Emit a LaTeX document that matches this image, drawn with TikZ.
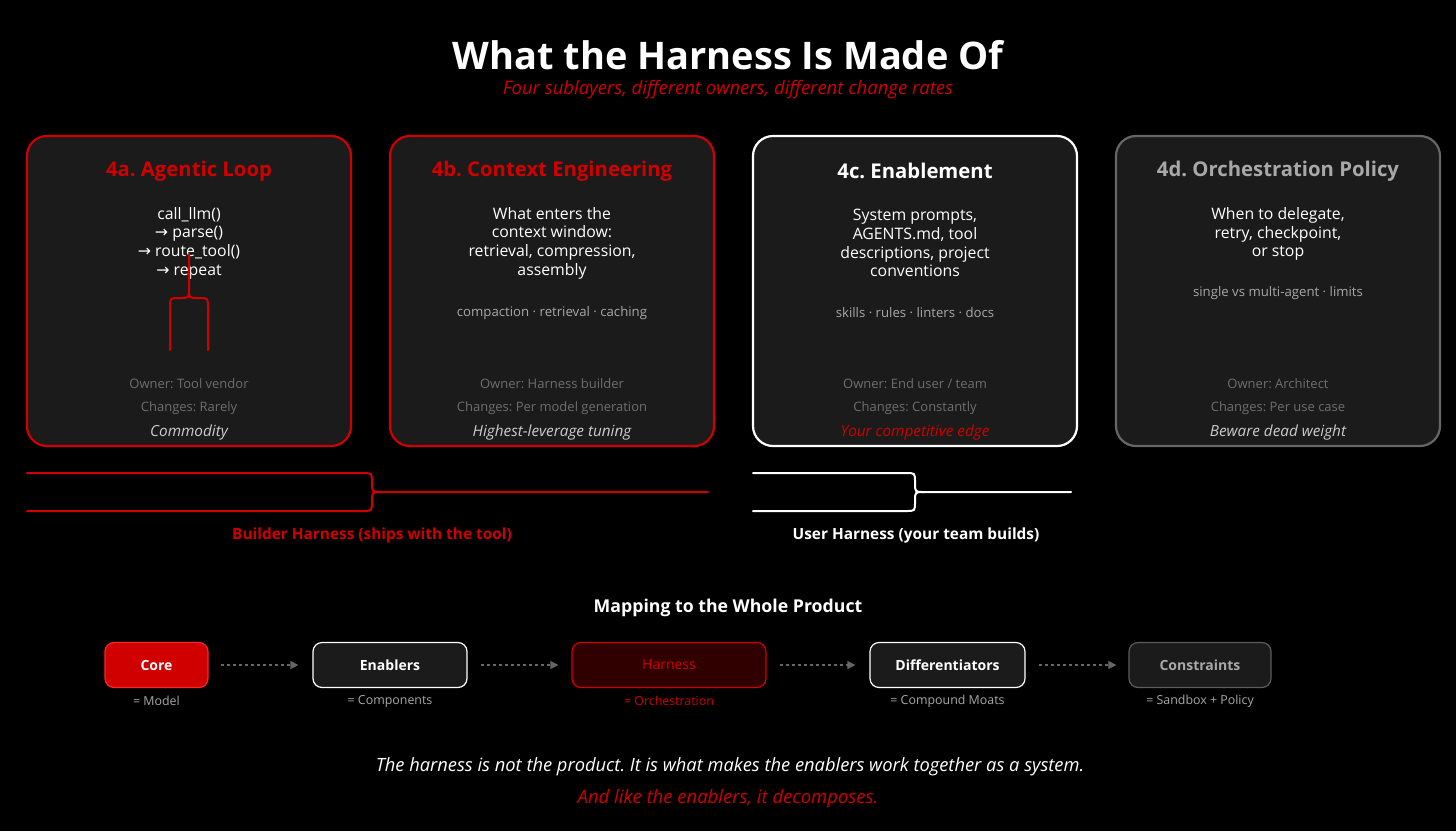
\documentclass[tikz,border=0pt]{standalone}
\usepackage{fontspec}
\setmainfont{Open Sans}
\newfontfamily\symf{DejaVu Sans}
\usetikzlibrary{arrows.meta}
\frenchspacing
\definecolor{rd}{HTML}{D00000}
\definecolor{boxbg}{HTML}{1B1B1B}
\definecolor{dimgray}{HTML}{6E6E6E}
\definecolor{taggray}{HTML}{A8A8A8}
\definecolor{cardgray}{HTML}{666666}
\definecolor{hbg}{HTML}{300000}
\tikzset{
  card/.style={draw, line width=2.2pt, fill=boxbg, rounded corners=20pt, minimum width=324pt, minimum height=310pt},
  cardhead/.style={font=\bfseries\fontsize{20.3}{24}\selectfont},
  cardbody/.style={text=white, align=center, font=\fontsize{15.8}{18.7}\selectfont},
  cardtag/.style={text=taggray, font=\fontsize{13.2}{15}\selectfont},
  owner/.style={text=dimgray, font=\fontsize{13}{15}\selectfont},
  verdict/.style={font=\itshape\fontsize{15.3}{17}\selectfont},
  brace/.style={line width=2pt, line cap=round},
  mapbox/.style={line width=1.2pt, rounded corners=9pt, minimum height=45pt, font=\bfseries\fontsize{14}{16}\selectfont},
  maplabel/.style={font=\fontsize{12.4}{14}\selectfont, text=taggray},
  flow/.style={draw=cardgray, dashed, line width=1.2pt, -{Triangle[length=8pt,width=8pt]}},
}
\begin{document}
\begin{tikzpicture}[x=1pt,y=-1pt]
\fill[black] (0,0) rectangle (1456,831);
\useasboundingbox (0,0) rectangle (1456,831);

% title
\node[text=white, font=\bfseries\fontsize{38}{44}\selectfont] (title) at (728,55) {What the Harness Is Made Of};
\node[text=rd, font=\itshape\fontsize{18.5}{21}\selectfont] (subtitle) at (728,90) {Four sublayers, different owners, different change rates};

% cards
\node[card, draw=rd] (cardA) at (189,291) {};
\node[card, draw=rd] (cardB) at (552,291) {};
\node[card, draw=white] (cardC) at (915,291) {};
\node[card, draw=cardgray] (cardD) at (1278,291) {};

% headers
\node[cardhead, text=rd] (headA) at (189,171) {4a. Agentic Loop};
\node[cardhead, text=rd] (headB) at (552,171) {4b. Context Engineering};
\node[cardhead, text=white] (headC) at (915,171) {4c. Enablement};
\node[cardhead, text=taggray] (headD) at (1278,171) {4d. Orchestration Policy};

% bodies
\node[cardbody] (bodyA) at (189,243) {call\_llm()\\ {\symf →} parse()\\ {\symf →} route\_tool()\\ {\symf →} repeat};
\node[cardbody] (bodyB) at (552,243) {What enters the\\ context window:\\ retrieval, compression,\\ assembly};
\node[cardbody] (bodyC) at (915,243) {System prompts,\\ AGENTS.md, tool\\ descriptions, project\\ conventions};
\node[cardbody] (bodyD) at (1278,234) {When to delegate,\\ retry, checkpoint,\\ or stop};

% tags
\node[cardtag] (tagB) at (552,313) {compaction · retrieval · caching};
\node[cardtag] (tagC) at (915,313) {skills · rules · linters · docs};
\node[cardtag] (tagD) at (1278,293) {single vs multi-agent · limits};

% vertical brace in 4a
\draw[brace, rd] (170,350) -- (170,308) .. controls (170,298) .. (178,298) -- (181,298) .. controls (189,298) .. (189,288) -- (189,254);
\draw[brace, rd] (208,350) -- (208,308) .. controls (208,298) .. (200,298) -- (197,298) .. controls (189,298) .. (189,288);

% owners
\node[owner] (ownA) at (189,384) {Owner: Tool vendor};
\node[owner] (chA) at (189,408) {Changes: Rarely};
\node[verdict, text=white!80!black] (vA) at (189,433) {Commodity};
\node[owner] (ownB) at (552,384) {Owner: Harness builder};
\node[owner] (chB) at (552,408) {Changes: Per model generation};
\node[verdict, text=white!80!black] (vB) at (552,433) {Highest-leverage tuning};
\node[owner] (ownC) at (915,384) {Owner: End user / team};
\node[owner] (chC) at (915,408) {Changes: Constantly};
\node[verdict, text=rd] (vC) at (915,433) {Your competitive edge};
\node[owner] (ownD) at (1278,384) {Owner: Architect};
\node[owner] (chD) at (1278,408) {Changes: Per use case};
\node[verdict, text=white!80!black] (vD) at (1278,433) {Beware dead weight};

% horizontal braces
\coordinate (rbTop) at (27,473);
\coordinate (rbBot) at (27,511);
\coordinate (rbEnd) at (708,492);
\draw[brace, rd] (rbTop) -- (362,473) .. controls (372,473) .. (372,482) -- (372,483) .. controls (372,492) .. (381,492) -- (rbEnd);
\draw[brace, rd] (rbBot) -- (362,511) .. controls (372,511) .. (372,502) -- (372,501) .. controls (372,492) .. (381,492);
\node[text=rd, font=\bfseries\fontsize{15.4}{18}\selectfont] (builder) at (372,535) {Builder Harness (ships with the tool)};

\coordinate (wbTop) at (753,473);
\coordinate (wbBot) at (753,511);
\coordinate (wbEnd) at (1071,492);
\draw[brace, white] (wbTop) -- (906,473) .. controls (915,473) .. (915,482) -- (915,483) .. controls (915,492) .. (924,492) -- (wbEnd);
\draw[brace, white] (wbBot) -- (906,511) .. controls (915,511) .. (915,502) -- (915,501) .. controls (915,492) .. (924,492);
\node[text=white, font=\bfseries\fontsize{15.4}{18}\selectfont] (user) at (916,535) {User Harness (your team builds)};

% mapping
\node[text=white, font=\bfseries\fontsize{17.7}{20}\selectfont] (maptitle) at (728,608) {Mapping to the Whole Product};

\node[mapbox, draw=red!85!white, fill=rd, text=white, minimum width=103pt] (core) at (156.5,665) {Core};
\node[mapbox, draw=white, fill=boxbg, text=white, minimum width=154pt] (enab) at (390,665) {Enablers};
\node[mapbox, draw=rd, fill=hbg, text=rd, minimum width=194pt, font=\fontsize{14}{16}\selectfont] (harn) at (669,665) {Harness};
\node[mapbox, draw=white, fill=boxbg, text=white, minimum width=155pt] (diff) at (947.5,665) {Differentiators};
\node[mapbox, draw=cardgray!90!black, fill=boxbg, text=taggray, minimum width=142pt] (cons) at (1200,665) {Constraints};

\node[maplabel] (lcore) at (156.5,701) {= Model};
\node[maplabel] (lenab) at (390,701) {= Components};
\node[maplabel, text=rd] (lharn) at (669,701) {= Orchestration};
\node[maplabel] (ldiff) at (947.5,701) {= Compound Moats};
\node[maplabel] (lcons) at (1200,701) {= Sandbox + Policy};

\draw[flow] ([xshift=12pt]core.east) -- ([xshift=-14pt]enab.west);
\draw[flow] ([xshift=13pt]enab.east) -- ([xshift=-13pt]harn.west);
\draw[flow] ([xshift=13pt]harn.east) -- ([xshift=-14pt]diff.west);
\draw[flow] ([xshift=13pt]diff.east) -- ([xshift=-12pt]cons.west);

% closing
\node[text=white, font=\itshape\fontsize{18.3}{21}\selectfont] (close1) at (730,767) {The harness is not the product. It is what makes the enablers work together as a system.};
\node[text=rd, font=\itshape\fontsize{18.5}{21}\selectfont] (close2) at (728,799) {And like the enablers, it decomposes.};
\end{tikzpicture}
\end{document}
